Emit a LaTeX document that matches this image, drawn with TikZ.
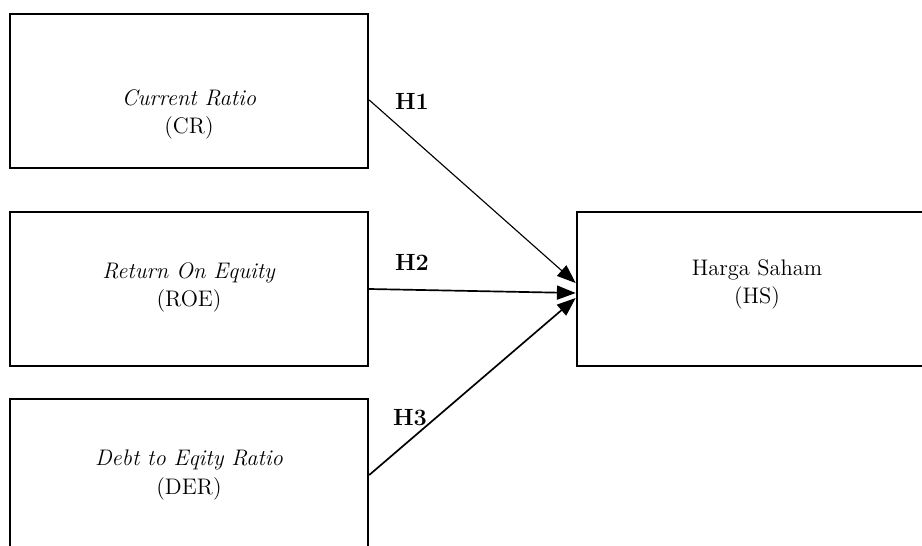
\documentclass[tikz,border=0pt]{standalone}
\usepackage{tikz}
\usetikzlibrary{arrows.meta, calc, positioning}

\begin{document}
\begin{tikzpicture}[
    x=0.533pt, y=-0.533pt,
    font=\fontsize{12}{15}\selectfont,
    varbox/.style={rectangle, draw, line width=1.3pt, minimum width=190.8pt, minimum height=82.1pt, inner sep=0pt},
    depbox/.style={rectangle, draw, line width=1.3pt, minimum width=192pt, minimum height=82.1pt, inner sep=0pt},
    boxtext/.style={align=center, inner sep=0pt},
    hyp/.style={font=\fontsize{12.5}{15}\selectfont\bfseries, inner sep=0pt},
    arrow/.style={-{Triangle[length=10pt, width=7.5pt]}, line width=0.9pt}
]
\useasboundingbox (0,0) rectangle (922,546);
\clip (0,0) rectangle (922,546);

% variabel independen
\node[varbox] (cr) at (189,91) {};
\node[varbox] (roe) at (189,289) {};
\node[varbox] (der) at (189,476) {};

% variabel dependen
\node[depbox] (hs) at (757,289) {};

% teks dalam kotak
\node[boxtext] (cr_text) at (189,114) {\textit{Current Ratio}\\(CR)};
\node[boxtext] (roe_text) at (189,287) {\textit{Return On Equity}\\(ROE)};
\node[boxtext] (der_text) at (189,475) {\textit{Debt to Eqity Ratio}\\(DER)};
\node[boxtext] (hs_text) at (757,284) {Harga Saham\\(HS)};

% panah hipotesis
\draw[arrow, line width=0.6pt] ($(cr.east)+(0,9)$) -- ($(hs.west)+(0,-6)$);
\draw[arrow] (roe.east) -- ($(hs.west)+(0,4)$);
\draw[arrow] ($(der.east)+(0,-1)$) -- ($(hs.west)+(0,9)$);

% label hipotesis
\node[hyp] (h1) at (412,101) {H1};
\node[hyp] (h2) at (412,262) {H2};
\node[hyp] (h3) at (410,418) {H3};

\end{tikzpicture}
\end{document}
